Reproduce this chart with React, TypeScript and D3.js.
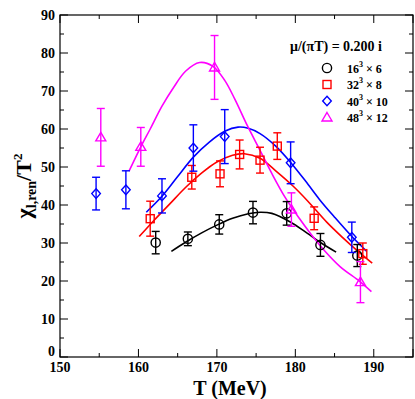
import React from "react";
import * as d3 from "d3";

// lattice data: T (MeV), chi/T^2, error
const tBlack = [162.2, 166.3, 170.3, 174.6, 178.9, 183.2, 187.9];
const yBlack = [30.1, 31.1, 34.9, 38.0, 37.8, 29.5, 26.7];
const eBlack = [2.95, 1.8, 2.55, 2.95, 3.1, 3.0, 2.9];

const tRed = [161.5, 166.8, 170.4, 172.9, 175.5, 177.7, 182.4, 188.6];
const yRed = [36.4, 47.3, 48.2, 53.3, 51.8, 55.5, 36.5, 27.2];
const eRed = [4.6, 3.1, 3.4, 3.8, 3.4, 3.5, 3.0, 2.8];

const tBlue = [154.6, 158.4, 163.0, 167.0, 171.0, 179.4, 187.2];
const yBlue = [43.0, 44.0, 42.4, 55.0, 58.0, 51.1, 31.5];
const eBlue = [4.3, 5.0, 4.5, 6.1, 7.1, 5.5, 4.0];

const tMag = [155.2, 160.3, 169.7, 179.5, 188.3];
const yMag = [57.8, 55.3, 76.2, 38.8, 19.7];
const eMag = [7.6, 5.1, 8.4, 4.4, 5.4];

// fit curves
const fitBlack: [number, number][] = [
  [164.2, 27.8], [166, 30.2], [168, 32.6], [170, 34.7], [172, 36.5], [174, 37.7],
  [175.5, 38.1], [177, 37.8], [179.3, 35.6], [181.5, 32.6], [183.3, 30], [185.2, 27.6],
];
const fitRed: [number, number][] = [
  [160.1, 31.7], [162, 36], [164, 40.3], [166, 44.6], [168, 48.3], [170, 51.3],
  [172, 53.1], [173.5, 53.5], [175.5, 52.3], [177.5, 49], [179.7, 45], [181.6, 41],
  [184, 35.5], [186, 31.5], [188, 27.8], [189.8, 24.7],
];
const fitBlue: [number, number][] = [
  [161, 38.1], [163, 42.3], [165, 47.5], [167, 52.6], [169, 56.5], [171, 59.4],
  [172.7, 60.5], [174, 60.2], [175.5, 58.8], [177.5, 55.5], [179.4, 51.2], [181.3, 46.3],
  [183.1, 41.4], [185, 36.8], [187.3, 31.5], [189.1, 27.8],
];
const fitMag: [number, number][] = [
  [158.8, 48.9], [160.3, 55.3], [161.5, 60], [163, 66], [164.5, 71], [166, 75.2],
  [167.8, 77.5], [169.5, 76.5], [171, 72.8], [172.3, 67.8], [173.9, 60.8], [175.5, 54.4],
  [177, 48.3], [178.7, 42], [180.5, 36.5], [182, 32.3], [183.5, 28.5], [185.7, 23.8],
  [188.2, 19.9], [189.7, 17.2],
];

const xTicks = [150, 160, 170, 180, 190];
const yTicks = [0, 10, 20, 30, 40, 50, 60, 70, 80, 90];
const legendVol = ["16", "32", "40", "48"];
const legendNt = ["6", "8", "10", "12"];

const W = 415;
const H = 399;
const L = 60, R = 413, T = 15, B = 357;
const FONT = "'Liberation Serif', 'DejaVu Serif', serif";

const x = d3.scaleLinear().domain([150, 195]).range([L, R]);
const y = d3.scaleLinear().domain([0, 90]).range([B, T]);

function Marker({ kind, cx, cy, color }: { kind: string; cx: number; cy: number; color: string }) {
  const sw = 1.4;
  if (kind === "circle") return <circle cx={cx} cy={cy} r={4.6} fill="none" stroke={color} strokeWidth={sw} />;
  if (kind === "square") return <rect x={cx - 4} y={cy - 4} width={8} height={8} fill="none" stroke={color} strokeWidth={sw} />;
  if (kind === "diamond")
    return <path d={`M${cx},${cy - 4.8}L${cx + 4.3},${cy}L${cx},${cy + 4.8}L${cx - 4.3},${cy}Z`} fill="none" stroke={color} strokeWidth={sw} />;
  return <path d={`M${cx},${cy - 5}L${cx + 5},${cy + 3.5}L${cx - 5},${cy + 3.5}Z`} fill="none" stroke={color} strokeWidth={sw} />;
}

const series = [
  { t: tBlack, v: yBlack, e: eBlack, fit: fitBlack, color: "#000000", kind: "circle" },
  { t: tRed, v: yRed, e: eRed, fit: fitRed, color: "#ff0000", kind: "square" },
  { t: tBlue, v: yBlue, e: eBlue, fit: fitBlue, color: "#0000ff", kind: "diamond" },
  { t: tMag, v: yMag, e: eMag, fit: fitMag, color: "#ff00ff", kind: "triangle" },
];

const txt = { fontFamily: FONT, fontWeight: 700 };

export default function App() {
  const line = d3
    .line<[number, number]>()
    .x((d) => x(d[0]))
    .y((d) => y(d[1]))
    .curve(d3.curveCatmullRom);

  const xMinor = d3.range(155, 195, 10);
  const yMinor = d3.range(5, 90, 10);

  return (
    <svg width={W} height={H} style={{ position: "absolute", left: 0, top: 0, background: "#fff", fontFamily: FONT }}>
      {/* fit curves */}
      {series.map((s, i) => (
        <path key={"f" + i} d={line(s.fit) || ""} fill="none" stroke={s.color} strokeWidth={1.6} />
      ))}

      {/* error bars and markers */}
      {series.map((s, i) => (
        <g key={"s" + i}>
          {s.t.map((t, j) => {
            const cx = x(t);
            const y1 = y(s.v[j] + s.e[j]);
            const y2 = y(s.v[j] - s.e[j]);
            return (
              <g key={j} stroke={s.color} strokeWidth={1.4}>
                <line x1={cx} x2={cx} y1={y1} y2={y2} />
                <line x1={cx - 4} x2={cx + 4} y1={y1} y2={y1} />
                <line x1={cx - 4} x2={cx + 4} y1={y2} y2={y2} />
              </g>
            );
          })}
          {s.t.map((t, j) => (
            <Marker key={"m" + j} kind={s.kind} cx={x(t)} cy={y(s.v[j])} color={s.color} />
          ))}
        </g>
      ))}

      {/* frame */}
      <rect x={L} y={T} width={R - L} height={B - T} fill="none" stroke="#000" strokeWidth={1.2} />

      {/* x ticks */}
      {xTicks.concat([195]).map((v) => (
        <g key={"xt" + v} stroke="#000" strokeWidth={1}>
          <line x1={x(v)} x2={x(v)} y1={B} y2={B - 8} />
          <line x1={x(v)} x2={x(v)} y1={T} y2={T + 8} />
        </g>
      ))}
      {xMinor.map((v) => (
        <g key={"xm" + v} stroke="#000" strokeWidth={1}>
          <line x1={x(v)} x2={x(v)} y1={B} y2={B - 4} />
          <line x1={x(v)} x2={x(v)} y1={T} y2={T + 4} />
        </g>
      ))}
      {xTicks.map((v) => (
        <text key={"xl" + v} x={x(v)} y={372} textAnchor="middle" fontSize={14} style={txt}>
          {v}
        </text>
      ))}

      {/* y ticks */}
      {yTicks.map((v) => (
        <g key={"yt" + v} stroke="#000" strokeWidth={1}>
          <line x1={L} x2={L + 8} y1={y(v)} y2={y(v)} />
          <line x1={R} x2={R - 8} y1={y(v)} y2={y(v)} />
        </g>
      ))}
      {yMinor.map((v) => (
        <g key={"ym" + v} stroke="#000" strokeWidth={1}>
          <line x1={L} x2={L + 4} y1={y(v)} y2={y(v)} />
          <line x1={R} x2={R - 4} y1={y(v)} y2={y(v)} />
        </g>
      ))}
      {yTicks.map((v) => (
        <text key={"yl" + v} x={55} y={y(v) + (v === 0 ? -1 : 4.5)} textAnchor="end" fontSize={14} style={txt}>
          {v}
        </text>
      ))}

      {/* axis titles */}
      <text x={230} y={395} textAnchor="middle" fontSize={20} style={txt}>
        T (MeV)
      </text>
      <text transform={`translate(31,${y(45)}) rotate(-90)`} textAnchor="middle" fontSize={22} style={txt}>
        χ
        <tspan fontSize={14} dy={5}>l,ren</tspan>
        <tspan fontSize={22} dy={-5}>/T</tspan>
        <tspan fontSize={13} dy={-9}>2</tspan>
      </text>

      {/* legend */}
      <text x={336} y={51} textAnchor="middle" fontSize={14} style={txt}>
        μ/(πT) = 0.200 i
      </text>
      {series.map((s, i) => {
        const ly = 68 + i * 16.5;
        return (
          <g key={"lg" + i}>
            <Marker kind={s.kind} cx={327} cy={ly} color={s.color} />
            <text x={347} y={ly + 4.5} fontSize={12} style={txt}>
              {legendVol[i]}
              <tspan fontSize={8} dy={-6}>3</tspan>
              <tspan dy={6}>{" × " + legendNt[i]}</tspan>
            </text>
          </g>
        );
      })}
    </svg>
  );
}
